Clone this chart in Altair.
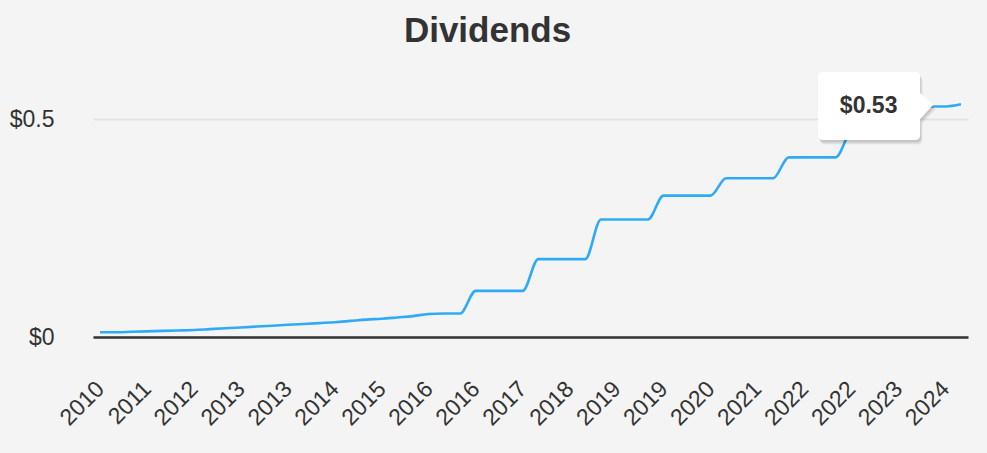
import altair as alt
import pandas as pd

# Quarterly periods (categories)
quarters = [
    "2010-Q4",
    "2011-Q1", "2011-Q2", "2011-Q3", "2011-Q4",
    "2012-Q1", "2012-Q2", "2012-Q3", "2012-Q4",
    "2013-Q1", "2013-Q2", "2013-Q3", "2013-Q4",
    "2014-Q1", "2014-Q2", "2014-Q3", "2014-Q4",
    "2015-Q1", "2015-Q2", "2015-Q3", "2015-Q4",
    "2016-Q1", "2016-Q2", "2016-Q3", "2016-Q4",
    "2017-Q1", "2017-Q2", "2017-Q3", "2017-Q4",
    "2018-Q1", "2018-Q2", "2018-Q3", "2018-Q4",
    "2019-Q1", "2019-Q2", "2019-Q3", "2019-Q4",
    "2020-Q1", "2020-Q2", "2020-Q3", "2020-Q4",
    "2021-Q1", "2021-Q2", "2021-Q3", "2021-Q4",
    "2022-Q1", "2022-Q2", "2022-Q3", "2022-Q4",
    "2023-Q1", "2023-Q2", "2023-Q3", "2023-Q4",
    "2024-Q1", "2024-Q2", "2024-Q3",
]

# Dividend per share (USD)
dividends = [
    0.011,
    0.011, 0.012, 0.013, 0.014,
    0.015, 0.016, 0.018, 0.020,
    0.022, 0.024, 0.026, 0.028,
    0.030, 0.032, 0.034, 0.037,
    0.040, 0.042, 0.045, 0.048,
    0.053, 0.054, 0.054, 0.106,
    0.106, 0.106, 0.106, 0.179,
    0.179, 0.179, 0.179, 0.270,
    0.270, 0.270, 0.270, 0.325,
    0.325, 0.325, 0.325, 0.365,
    0.365, 0.365, 0.365, 0.413,
    0.413, 0.413, 0.413, 0.470,
    0.470, 0.470, 0.470, 0.530,
    0.530, 0.530, 0.535,
]

# Axis tick categories (every third quarter) and y ticks
tick_quarters = [
    "2010-Q4", "2011-Q3", "2012-Q2", "2013-Q1", "2013-Q4", "2014-Q3",
    "2015-Q2", "2016-Q1", "2016-Q4", "2017-Q3", "2018-Q2", "2019-Q1",
    "2019-Q4", "2020-Q3", "2021-Q2", "2022-Q1", "2022-Q4", "2023-Q3",
    "2024-Q2",
]
y_ticks = [0, 0.5]

# Highlighted (tooltip) point
tooltip_quarter = "2024-Q1"

df = pd.DataFrame({"quarter": quarters, "value": dividends})
tip_df = df[df["quarter"] == tooltip_quarter].copy()
tip_df["label"] = tip_df["value"].map(lambda v: f"${v:.2f}")

FONT = "Liberation Sans"
TEXT = "#333333"

x_enc = alt.X(
    "quarter:O",
    sort=quarters,
    scale=alt.Scale(type="point", padding=0.45),
    title=None,
    axis=alt.Axis(
        values=tick_quarters,
        labelExpr="substring(datum.value, 0, 4)",
        labelAngle=-45,
        labelAlign="right",
        labelBaseline="middle",
        labelPadding=48,
        labelFontSize=23,
        labelFont=FONT,
        labelColor=TEXT,
        labelOverlap=False,
        ticks=False,
        domain=True,
        domainColor="#333333",
        domainWidth=2.5,
        grid=False,
    ),
)
y_enc = alt.Y(
    "value:Q",
    scale=alt.Scale(domain=[0, 0.6], nice=False, zero=True),
    title=None,
    axis=alt.Axis(
        values=y_ticks,
        labelExpr="'$' + datum.value",
        labelFontSize=23,
        labelFont=FONT,
        labelColor=TEXT,
        labelPadding=39,
        ticks=False,
        domain=False,
        grid=True,
        gridColor="#e3e3e3",
        gridWidth=2,
    ),
)

line = alt.Chart(df).mark_line(
    color="#2eaaf8", strokeWidth=2.6, interpolate="monotone"
).encode(x=x_enc, y=y_enc)

# Tooltip bubble shape (pixel units, pointer tip at origin), scaled to [-1, 1]
S = 120.0
Lb, Rb, Tb, Bb, r = -115.0, -13.0, -33.0, 35.0, 5.0
pts = [
    ("M", Lb + r, Tb), ("L", Rb - r, Tb), ("Q", Rb, Tb, Rb, Tb + r),
    ("L", Rb, -12.0), ("L", 0.0, 0.0), ("L", Rb, 14.0),
    ("L", Rb, Bb - r), ("Q", Rb, Bb, Rb - r, Bb),
    ("L", Lb + r, Bb), ("Q", Lb, Bb, Lb, Bb - r),
    ("L", Lb, Tb + r), ("Q", Lb, Tb, Lb + r, Tb),
]
path = " ".join(
    p[0] + " " + " ".join(f"{c / S:.4f}" for c in p[1:]) for p in pts
) + " Z"

tip_x = alt.X("quarter:O", sort=quarters)
tip_y = alt.Y("value:Q")

shadows = [
    alt.Chart(tip_df).mark_point(
        shape=path, filled=True, size=(2 * S) ** 2, color="#000000",
        opacity=op, strokeWidth=0, xOffset=xo, yOffset=yo,
    ).encode(x=tip_x, y=tip_y)
    for op, xo, yo in [(0.05, 6.0, 3.0), (0.07, 5.0, 2.0), (0.08, 4.5, 0.5)]
]
bubble = alt.Chart(tip_df).mark_point(
    shape=path, filled=True, size=(2 * S) ** 2, color="#ffffff",
    opacity=1, strokeWidth=0, xOffset=3.5, yOffset=-1.5,
).encode(x=tip_x, y=tip_y)
tip_text = alt.Chart(tip_df).mark_text(
    font=FONT, fontSize=23, fontWeight="bold", color=TEXT,
    align="center", baseline="middle", dx=-61, dy=0,
).encode(x=tip_x, y=tip_y, text="label:N")

chart = alt.layer(line, *shadows, bubble, tip_text).properties(
    width=875,
    height=261,
    title=alt.TitleParams(
        "Dividends", fontSize=35, fontWeight="bold", font=FONT, color=TEXT,
        anchor="middle", frame="group", dx=-43, baseline="alphabetic",
        offset=-5,
    ),
    autosize=alt.AutoSizeParams(type="none"),
    padding={"left": 93, "top": 76, "right": 19, "bottom": 116},
    background="#f4f4f4",
).configure_view(stroke=None)

chart.save("out.html", embed_options={"renderer": "svg", "actions": False})
